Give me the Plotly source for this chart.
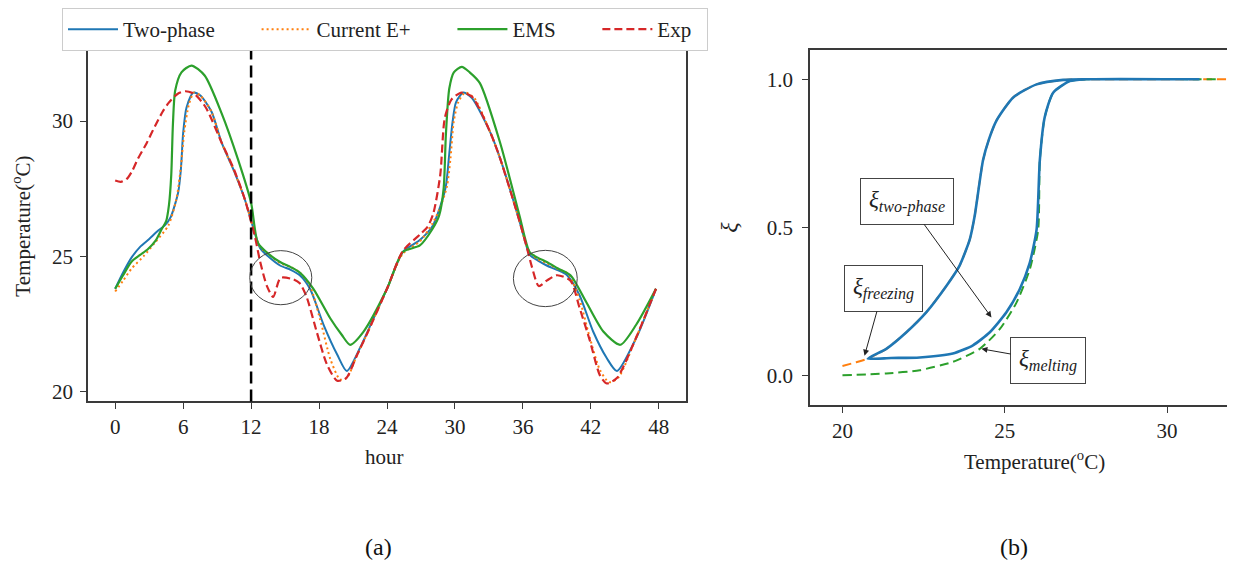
import plotly.graph_objects as go

# ---------------- Panel (a): temperature vs hour ----------------
hour_exp = [0, 0.5, 1.0, 1.5, 2.0, 2.8, 3.5, 4.2, 4.7, 5.5, 6.2, 7.0, 8.0, 9.4, 10.5, 11.45, 12.3, 12.8,
            13.4, 13.95, 14.6, 15.7, 16.3, 16.9, 17.8, 18.7, 19.6, 20.4, 21.3, 22.2, 24.0, 25.4, 26.9, 27.6,
            28.1, 28.7, 29.1, 29.7, 30.6, 31.5, 33.1, 34.0, 35.7, 36.3, 36.8, 37.4, 38.1, 39.0, 40.2, 41.0,
            41.9, 42.8, 43.4, 44.3, 46.0, 47.75]
temp_exp = [27.8, 27.75, 27.85, 28.15, 28.6, 29.2, 29.8, 30.35, 30.66, 31.0, 31.1, 31.0, 30.5, 29.2, 28.2, 27.1, 25.8, 24.8,
            23.9, 23.5, 24.2, 24.15, 24.0, 23.5, 22.2, 21.0, 20.4, 20.5, 21.3, 22.1, 23.8, 25.2, 25.8, 26.1,
            26.6, 28.0, 30.1, 30.8, 31.05, 30.9, 29.6, 28.6, 26.3, 25.4, 24.6, 23.9, 24.1, 24.3, 24.1, 23.1,
            21.9, 20.6, 20.3, 20.5, 22.0, 23.8]

hour_two = [0, 0.7, 1.44, 2.2, 2.9, 3.8, 4.4, 4.9, 5.56, 5.8, 6.0, 6.3, 6.9, 7.5, 8.5, 9.4, 10.5, 11.45, 12.3, 12.8,
            13.5, 14.56, 15.5, 16.3, 17.2, 18.4, 19.6, 20.45, 21.6, 22.8, 24.0, 25.4, 26.9, 28.0, 28.7, 29.2,
            29.5, 29.8, 30.1, 30.75, 31.5, 33.1, 34.0, 35.7, 36.3, 36.6, 37.3, 38.1, 39.0, 39.9, 41.0, 42.2,
            43.4, 44.3, 46.0, 47.75]
temp_two = [23.8, 24.4, 24.95, 25.35, 25.6, 25.95, 26.15, 26.45, 27.36, 28.2, 29.55, 30.5, 31.05, 30.95, 30.35, 29.2, 28.15, 27.1, 25.9, 25.3,
            25.0, 24.66, 24.5, 24.3, 23.8, 22.47, 21.37, 20.76, 21.6, 22.7, 23.8, 25.16, 25.6, 26.1, 26.84, 27.6,
            28.8, 30.0, 30.7, 31.05, 30.85, 29.6, 28.6, 26.3, 25.4, 25.05, 24.85, 24.66, 24.5, 24.3, 23.56, 22.22,
            21.24, 20.76, 21.98, 23.8]

hour_cur = [0, 0.7, 1.44, 2.5, 3.5, 4.68, 5.4, 5.8, 6.1, 6.5, 6.95, 7.5, 8.5, 9.4, 10.5, 11.45, 12.3, 12.8, 13.5,
            14.56, 15.5, 16.3, 17.2, 18.2, 19.0, 19.85, 20.45, 21.3, 22.2, 24.0, 25.4, 26.9, 28.0, 28.7, 29.3,
            29.6, 29.9, 30.3, 30.9, 31.7, 33.1, 34.0, 35.7, 36.3, 36.7, 37.3, 38.1, 39.0, 40.0, 41.0, 41.9,
            42.8, 43.6, 44.4, 46.0, 47.75]
temp_cur = [23.7, 24.1, 24.54, 25.0, 25.5, 26.13, 27.1, 28.3, 29.6, 30.6, 31.05, 30.95, 30.35, 29.2, 28.15, 27.1, 25.9, 25.35, 25.1,
            24.75, 24.6, 24.4, 23.9, 22.5, 21.2, 20.45, 20.5, 21.3, 22.1, 23.8, 25.1, 25.55, 26.2, 26.8, 27.6,
            28.6, 30.0, 30.7, 31.05, 30.85, 29.6, 28.6, 26.3, 25.4, 25.1, 24.9, 24.75, 24.55, 24.35, 23.4, 22.0,
            20.8, 20.35, 20.5, 22.0, 23.8]

hour_ems = [0, 0.7, 1.44, 2.2, 2.9, 3.6, 4.1, 4.5, 4.75, 4.95, 5.1, 5.3, 5.85, 6.74, 7.9, 9.4, 10.85, 12.0, 12.6,
            13.5, 14.56, 15.5, 16.3, 17.5, 19.0, 20.0, 20.74, 21.9, 24.0, 25.4, 26.9, 28.0, 28.6, 29.0, 29.2,
            29.5, 29.9, 30.6, 31.3, 32.2, 34.0, 35.7, 36.6, 37.3, 38.1, 39.1, 40.2, 41.6, 43.1, 44.6, 46.0, 47.75]
temp_ems = [23.8, 24.3, 24.8, 25.05, 25.27, 25.6, 26.0, 26.3, 26.9, 28.0, 29.9, 31.13, 31.8, 32.05, 31.68, 30.28, 28.57, 26.98, 25.5,
            25.1, 24.79, 24.6, 24.4, 23.8, 22.7, 22.1, 21.73, 22.2, 23.8, 25.16, 25.4, 26.0, 26.5, 27.5, 29.5,
            31.2, 31.8, 32.0, 31.8, 31.4, 29.18, 26.5, 25.15, 24.95, 24.79, 24.55, 24.3, 23.3, 22.22, 21.73, 22.47, 23.8]

hour_ticks = [0, 6, 12, 18, 24, 30, 36, 42, 48]
temp_ticks = [20, 25, 30]

# ---------------- Panel (b): xi vs temperature ----------------
t_freeze = [20.78, 21.35, 21.97, 22.58, 23.2, 23.6, 23.92, 24.07, 24.33, 24.52, 24.74, 25.26, 25.98, 26.8, 27.5]
xi_freeze = [0.058, 0.091, 0.147, 0.214, 0.303, 0.37, 0.459, 0.537, 0.727, 0.80, 0.86, 0.939, 0.983, 0.998, 1.0]
t_melt = [20.78, 21.5, 22.38, 23.4, 24.02, 24.54, 25.05, 25.46, 25.77, 25.98, 26.08, 26.23, 26.49, 27.0, 27.5]
xi_melt = [0.058, 0.06, 0.062, 0.075, 0.103, 0.147, 0.214, 0.292, 0.381, 0.493, 0.727, 0.872, 0.955, 0.994, 1.0]
t_melting_curve = [20.0, 21.35, 22.38, 23.4, 24.23, 24.85, 25.36, 25.77, 26.03, 26.08, 26.23, 26.49, 27.0, 27.5, 31.5]
xi_melting_curve = [0.002, 0.008, 0.019, 0.047, 0.091, 0.158, 0.247, 0.359, 0.493, 0.727, 0.872, 0.955, 0.994, 1.0, 1.0]
t_freezing_start = [20.0, 20.4]
xi_freezing_start = [0.033, 0.045]
t_end_freeze, t_end_two = 32.0, 31.0

C_BLUE, C_ORANGE, C_GREEN, C_RED = "#1f77b4", "#ff7f0e", "#2ca02c", "#d62728"
FONT = "Liberation Serif"
FRAME = "#3a3a3a"
NB = "\u00a0" * 7

# page body adds an 8 px margin, so the figure is laid out in shifted pixel coordinates
W, H, OFF = 1227, 559, 8


def px_x(p):
    return (p - OFF) / W


def px_y(p):
    return 1 - (p - OFF) / H


fig = go.Figure()

fig.add_trace(go.Scatter(x=hour_two, y=temp_two, mode="lines", name="Two-phase" + NB,
                         line=dict(color=C_BLUE, width=2, shape="spline", smoothing=0.7)))
fig.add_trace(go.Scatter(x=hour_cur, y=temp_cur, mode="lines", name="Current E+" + NB,
                         line=dict(color=C_ORANGE, width=2, dash="2px,3px", shape="spline", smoothing=0.7)))
fig.add_trace(go.Scatter(x=hour_ems, y=temp_ems, mode="lines", name="EMS" + NB,
                         line=dict(color=C_GREEN, width=2.2, shape="spline", smoothing=0.7)))
fig.add_trace(go.Scatter(x=hour_exp, y=temp_exp, mode="lines", name="Exp" + "\u00a0" * 2,
                         line=dict(color=C_RED, width=2.2, dash="8px,4px", shape="spline", smoothing=0.7)))

# Panel (b) traces
fr_x = t_freezing_start + t_freeze + [t_end_freeze]
fr_y = xi_freezing_start + xi_freeze + [1.0]
fig.add_trace(go.Scatter(x=fr_x, y=fr_y, mode="lines", showlegend=False, xaxis="x2", yaxis="y2",
                         line=dict(color=C_ORANGE, width=2, dash="9px,5px", shape="spline", smoothing=0.6)))
fig.add_trace(go.Scatter(x=t_melting_curve, y=xi_melting_curve, mode="lines", showlegend=False,
                         xaxis="x2", yaxis="y2",
                         line=dict(color=C_GREEN, width=2, dash="9px,5px", shape="spline", smoothing=0.6)))
two_x = [t_end_two] + t_freeze[::-1] + t_melt[1:] + [t_end_two]
two_y = [1.0] + xi_freeze[::-1] + xi_melt[1:] + [1.0]
fig.add_trace(go.Scatter(x=two_x, y=two_y, mode="lines", showlegend=False, xaxis="x2", yaxis="y2",
                         line=dict(color=C_BLUE, width=2.6, shape="spline", smoothing=0.6)))

axis_common = dict(showline=True, linecolor=FRAME, linewidth=1.5, mirror=True, ticks="outside",
                   ticklen=6, tickwidth=1.2, tickcolor=FRAME, showgrid=False, zeroline=False,
                   tickfont=dict(family=FONT, size=21, color="#222"), automargin=False)

fig.update_layout(
    width=W, height=H, margin=dict(l=0, r=0, t=0, b=0),
    paper_bgcolor="white", plot_bgcolor="white",
    font=dict(family=FONT, size=21, color="#222"),
    xaxis=dict(domain=[px_x(88), px_x(686)], range=[-2.4, 50.4], tickvals=hour_ticks, **axis_common),
    yaxis=dict(domain=[px_y(400), px_y(46)], range=[19.634, 32.6], tickvals=temp_ticks,
               ticklabelstandoff=3,
               title=dict(text="Temperature(<sup>o</sup>C)", font=dict(family=FONT, size=21), standoff=23),
               **axis_common),
    xaxis2=dict(domain=[px_x(810), px_x(1232)], range=[19, 32], tickvals=[20, 25, 30], anchor="y2",
                **axis_common),
    yaxis2=dict(domain=[px_y(404), px_y(45)], range=[-0.1, 1.1], tickvals=[0, 0.5, 1.0],
                ticktext=["0.0", "0.5", "1.0"], anchor="x2", ticklabelstandoff=5,
                title=dict(text="<i>ξ</i>", font=dict(family=FONT, size=24), standoff=22),
                **axis_common),
    legend=dict(orientation="h", x=px_x(62), y=px_y(3), xanchor="left", yanchor="top",
                bordercolor="#cccccc", borderwidth=1, bgcolor="white", itemwidth=50,
                font=dict(family=FONT, size=21, color="#222")),
    showlegend=True,
)

# x-axis titles placed as text under each panel
fig.add_annotation(xref="paper", yref="paper", x=px_x(385), y=px_y(456), text="hour", showarrow=False,
                   xanchor="center", yanchor="middle", font=dict(family=FONT, size=21, color="#222"))
fig.add_annotation(xref="paper", yref="paper", x=px_x(1034), y=px_y(460), text="Temperature(<sup>o</sup>C)",
                   showarrow=False, xanchor="center", yanchor="middle",
                   font=dict(family=FONT, size=21, color="#222"))

# circles and dashed line in panel (a)
fig.add_shape(type="line", xref="x", yref="y domain", x0=12, x1=12, y0=0, y1=1,
              line=dict(color="black", width=2.5, dash="12px,6px"))
fig.add_shape(type="circle", xref="x", yref="y", x0=14.62 - 2.74, x1=14.62 + 2.74, y0=23.21, y1=25.21,
              line=dict(color="#444", width=1))
fig.add_shape(type="circle", xref="x", yref="y", x0=37.98 - 2.82, x1=37.98 + 2.82, y0=23.14, y1=25.22,
              line=dict(color="#444", width=1))


# annotations panel (b)
def box_note(text, tip, center):
    fig.add_annotation(xref="x2", yref="y2", x=tip[0], y=tip[1], axref="x2", ayref="y2",
                       ax=center[0], ay=center[1], text=text, showarrow=True, arrowhead=2,
                       arrowsize=1.2, arrowwidth=1, arrowcolor="#222",
                       bordercolor="#444", borderwidth=1, borderpad=8, bgcolor="white",
                       font=dict(family=FONT, size=23, color="#222"))


box_note("<i>ξ</i><sub><i>two-phase</i></sub>", (24.59, 0.197), (22.0, 0.589))
box_note("<i>ξ</i><sub><i>freezing</i></sub>", (20.68, 0.068), (21.26, 0.295))
box_note("<i>ξ</i><sub><i>melting</i></sub>", (24.28, 0.091), (26.34, 0.051))

fig.add_annotation(xref="paper", yref="paper", x=px_x(378), y=px_y(547), text="(a)", showarrow=False,
                   xanchor="center", yanchor="middle", font=dict(family=FONT, size=24, color="#111"))
fig.add_annotation(xref="paper", yref="paper", x=px_x(1014), y=px_y(547), text="(b)", showarrow=False,
                   xanchor="center", yanchor="middle", font=dict(family=FONT, size=24, color="#111"))

fig.write_html("out.html")
